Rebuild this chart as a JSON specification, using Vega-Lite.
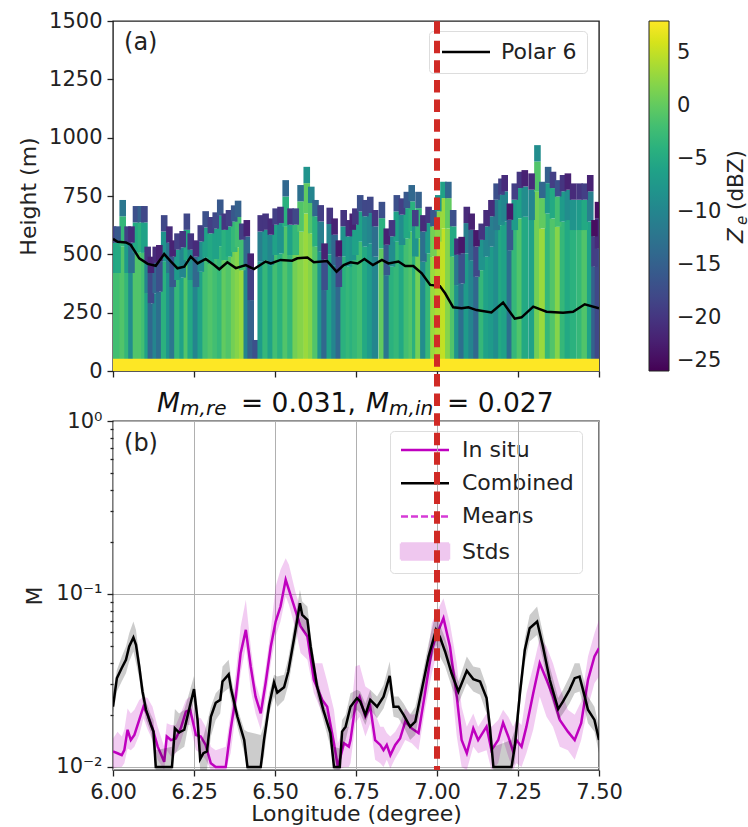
{"$schema":"https://vega.github.io/schema/vega-lite/v6.json","padding":{"left":16,"top":9,"right":0,"bottom":0},"spacing":50,"bounds":"flush","config":{"font":"DejaVu Sans","view":{"stroke":"#222","strokeWidth":1.4},"axis":{"labelFontSize":21,"titleFontSize":22,"titleFontWeight":"normal","tickColor":"#222","tickWidth":1.3,"tickSize":6,"labelColor":"#222","titleColor":"#222","domain":false,"labelOverlap":false,"labelFlush":false,"labelBound":false,"labelPadding":5},"legend":{"labelFontSize":22,"labelColor":"#222"}},
"datasets":{"radar":[
{"x":6.0,"b":420,"c":550,"t":620,"z1":-2,"z2":-6,"z3":-19},{"x":6.014,"b":420,"c":550,"t":620,"z1":-2,"z2":-5,"z3":-16},{"x":6.03,"b":533,"c":663,"t":733,"z1":-1,"z2":-3,"z3":-12},{"x":6.045,"b":420,"c":550,"t":620,"z1":-3,"z2":-7,"z3":-19},{"x":6.057,"b":420,"c":550,"t":620,"z1":-9,"z2":-13,"z3":-21},{"x":6.071,"b":507,"c":637,"t":707,"z1":-1,"z2":-5,"z3":-17},{"x":6.086,"b":507,"c":637,"t":707,"z1":-1,"z2":-4,"z3":-15},{"x":6.097,"b":507,"c":637,"t":707,"z1":-2,"z2":-6,"z3":-18},{"x":6.107,"b":333,"c":463,"t":533,"z1":-6,"z2":-10,"z3":-20},{"x":6.117,"b":290,"c":420,"t":490,"z1":-14,"z2":-18,"z3":-22},{"x":6.132,"b":333,"c":463,"t":533,"z1":-10,"z2":-14,"z3":-21},{"x":6.143,"b":340,"c":470,"t":540,"z1":-13,"z2":-17,"z3":-22},{"x":6.158,"b":468,"c":598,"t":668,"z1":-4,"z2":-8,"z3":-18},{"x":6.174,"b":420,"c":550,"t":620,"z1":-8,"z2":-12,"z3":-21},{"x":6.184,"b":360,"c":490,"t":560,"z1":-12,"z2":-16,"z3":-22},{"x":6.199,"b":390,"c":520,"t":590,"z1":-3,"z2":-7,"z3":-19},{"x":6.215,"b":400,"c":530,"t":600,"z1":-6,"z2":-10,"z3":-20},{"x":6.228,"b":475,"c":605,"t":675,"z1":-1,"z2":-5,"z3":-18},{"x":6.24,"b":390,"c":520,"t":590,"z1":-5,"z2":-9,"z3":-20},{"x":6.256,"b":360,"c":490,"t":560,"z1":-10,"z2":-14,"z3":-21},{"x":6.271,"b":425,"c":555,"t":625,"z1":-6,"z2":-9,"z3":-19},{"x":6.286,"b":485,"c":615,"t":685,"z1":-2,"z2":-6,"z3":-17},{"x":6.302,"b":460,"c":590,"t":660,"z1":-1,"z2":-5,"z3":-19},{"x":6.317,"b":480,"c":610,"t":680,"z1":-2,"z2":-6,"z3":-18},{"x":6.331,"b":535,"c":665,"t":735,"z1":-3,"z2":-6,"z3":-16},{"x":6.345,"b":475,"c":605,"t":675,"z1":0,"z2":-4,"z3":-20},{"x":6.358,"b":490,"c":620,"t":690,"z1":-1,"z2":-5,"z3":-19},{"x":6.374,"b":510,"c":640,"t":710,"z1":1,"z2":-3,"z3":-16},{"x":6.386,"b":530,"c":660,"t":730,"z1":2,"z2":-2,"z3":-15},{"x":6.399,"b":432,"c":562,"t":632,"z1":3,"z2":-2,"z3":-19},{"x":6.413,"b":447,"c":577,"t":647,"z1":-10,"z2":-14,"z3":-22},{"x":6.425,"b":304,"c":434,"t":504,"z1":-15,"z2":-19,"z3":-22},{"x":6.44,"b":133,"c":133,"t":133,"z1":-17,"z2":-17,"z3":-17},{"x":6.456,"b":468,"c":598,"t":668,"z1":-7,"z2":-11,"z3":-20},{"x":6.471,"b":475,"c":605,"t":675,"z1":-3,"z2":-8,"z3":-20},{"x":6.487,"b":454,"c":584,"t":654,"z1":-6,"z2":-10,"z3":-21},{"x":6.502,"b":497,"c":627,"t":697,"z1":-2,"z2":-6,"z3":-19},{"x":6.517,"b":504,"c":634,"t":704,"z1":-4,"z2":-8,"z3":-20},{"x":6.533,"b":618,"c":748,"t":818,"z1":-1,"z2":-4,"z3":-14},{"x":6.548,"b":497,"c":627,"t":697,"z1":-3,"z2":-6,"z3":-20},{"x":6.564,"b":497,"c":627,"t":697,"z1":1,"z2":-3,"z3":-18},{"x":6.579,"b":597,"c":727,"t":797,"z1":2,"z2":-1,"z3":-13},{"x":6.598,"b":675,"c":805,"t":875,"z1":3,"z2":0,"z3":-8},{"x":6.612,"b":590,"c":720,"t":790,"z1":2,"z2":-1,"z3":-10},{"x":6.625,"b":533,"c":663,"t":733,"z1":-1,"z2":-4,"z3":-14},{"x":6.641,"b":511,"c":641,"t":711,"z1":-8,"z2":-11,"z3":-19},{"x":6.653,"b":347,"c":477,"t":547,"z1":-14,"z2":-17,"z3":-22},{"x":6.669,"b":500,"c":630,"t":700,"z1":-6,"z2":-10,"z3":-20},{"x":6.684,"b":454,"c":584,"t":654,"z1":-10,"z2":-14,"z3":-22},{"x":6.697,"b":360,"c":490,"t":560,"z1":-14,"z2":-18,"z3":-23},{"x":6.712,"b":490,"c":620,"t":690,"z1":-4,"z2":-8,"z3":-20},{"x":6.728,"b":447,"c":577,"t":647,"z1":-3,"z2":-7,"z3":-21},
{"x":6.74,"b":475,"c":605,"t":675,"z1":-4,"z2":-8,"z3":-22},{"x":6.748,"b":497,"c":627,"t":697,"z1":-3,"z2":-6,"z3":-20},{"x":6.763,"b":554,"c":684,"t":754,"z1":-2,"z2":-6,"z3":-17},{"x":6.779,"b":533,"c":663,"t":733,"z1":-5,"z2":-9,"z3":-18},{"x":6.794,"b":547,"c":677,"t":747,"z1":-7,"z2":-10,"z3":-18},{"x":6.809,"b":490,"c":620,"t":690,"z1":-10,"z2":-13,"z3":-20},{"x":6.83,"b":525,"c":655,"t":725,"z1":0,"z2":-4,"z3":-17},{"x":6.845,"b":411,"c":541,"t":611,"z1":-12,"z2":-16,"z3":-22},{"x":6.861,"b":447,"c":577,"t":647,"z1":-4,"z2":-9,"z3":-20},{"x":6.876,"b":554,"c":684,"t":754,"z1":-3,"z2":-6,"z3":-17},{"x":6.892,"b":540,"c":670,"t":740,"z1":-5,"z2":-9,"z3":-19},{"x":6.907,"b":568,"c":698,"t":768,"z1":-2,"z2":-5,"z3":-16},{"x":6.922,"b":597,"c":727,"t":797,"z1":-1,"z2":-4,"z3":-14},{"x":6.933,"b":490,"c":620,"t":690,"z1":-4,"z2":-8,"z3":-19},{"x":6.943,"b":568,"c":698,"t":768,"z1":1,"z2":-3,"z3":-15},{"x":6.958,"b":468,"c":598,"t":668,"z1":-9,"z2":-13,"z3":-21},{"x":6.974,"b":504,"c":634,"t":704,"z1":-3,"z2":-7,"z3":-20},{"x":6.989,"b":490,"c":620,"t":690,"z1":3,"z2":1,"z3":-16},{"x":7.004,"b":554,"c":684,"t":754,"z1":4,"z2":2,"z3":-8},{"x":7.02,"b":611,"c":741,"t":811,"z1":5,"z2":3,"z3":-6},{"x":7.035,"b":611,"c":741,"t":811,"z1":2,"z2":0,"z3":-14},{"x":7.05,"b":490,"c":620,"t":690,"z1":-1,"z2":-5,"z3":-17},{"x":7.063,"b":368,"c":498,"t":568,"z1":-8,"z2":-12,"z3":-21},{"x":7.076,"b":375,"c":505,"t":575,"z1":-13,"z2":-17,"z3":-23},{"x":7.092,"b":504,"c":634,"t":704,"z1":-7,"z2":-11,"z3":-21},{"x":7.107,"b":475,"c":605,"t":675,"z1":-10,"z2":-14,"z3":-22},{"x":7.122,"b":404,"c":534,"t":604,"z1":-14,"z2":-18,"z3":-23},{"x":7.138,"b":432,"c":562,"t":632,"z1":-3,"z2":-8,"z3":-20},{"x":7.153,"b":490,"c":620,"t":690,"z1":-6,"z2":-10,"z3":-21},{"x":7.168,"b":533,"c":663,"t":733,"z1":-7,"z2":-11,"z3":-21},{"x":7.184,"b":604,"c":734,"t":804,"z1":-9,"z2":-12,"z3":-17},{"x":7.199,"b":625,"c":755,"t":825,"z1":-5,"z2":-9,"z3":-19},{"x":7.209,"b":640,"c":770,"t":840,"z1":-6,"z2":-10,"z3":-21},{"x":7.225,"b":518,"c":648,"t":718,"z1":-13,"z2":-16,"z3":-23},{"x":7.24,"b":604,"c":734,"t":804,"z1":-3,"z2":-7,"z3":-19},{"x":7.256,"b":654,"c":784,"t":854,"z1":-1,"z2":-6,"z3":-20},{"x":7.271,"b":661,"c":791,"t":861,"z1":-5,"z2":-9,"z3":-22},{"x":7.292,"b":647,"c":777,"t":847,"z1":-6,"z2":-10,"z3":-21},{"x":7.31,"b":768,"c":898,"t":968,"z1":1,"z2":-1,"z3":-9},{"x":7.325,"b":611,"c":741,"t":811,"z1":3,"z2":0,"z3":-14},{"x":7.343,"b":675,"c":805,"t":875,"z1":-3,"z2":-7,"z3":-15},{"x":7.358,"b":654,"c":784,"t":854,"z1":-1,"z2":-5,"z3":-19},{"x":7.374,"b":618,"c":748,"t":818,"z1":2,"z2":-2,"z3":-17},{"x":7.389,"b":640,"c":770,"t":840,"z1":-3,"z2":-7,"z3":-20},{"x":7.404,"b":647,"c":777,"t":847,"z1":-5,"z2":-9,"z3":-22},{"x":7.42,"b":604,"c":734,"t":804,"z1":-4,"z2":-8,"z3":-21},{"x":7.44,"b":604,"c":734,"t":804,"z1":-3,"z2":-7,"z3":-20},{"x":7.456,"b":604,"c":734,"t":804,"z1":-1,"z2":-5,"z3":-19},{"x":7.473,"b":640,"c":770,"t":840,"z1":-6,"z2":-11,"z3":-22},{"x":7.486,"b":447,"c":577,"t":647,"z1":-15,"z2":-19,"z3":-24},{"x":7.497,"b":525,"c":655,"t":725,"z1":-18,"z2":-21,"z3":-24}
],
"polar":[{"x":6.0,"y":566},{"x":6.014,"y":554},{"x":6.04,"y":551},{"x":6.055,"y":540},{"x":6.081,"y":483},{"x":6.107,"y":459},{"x":6.132,"y":451},{"x":6.158,"y":501},{"x":6.179,"y":469},{"x":6.199,"y":440},{"x":6.22,"y":447},{"x":6.24,"y":490},{"x":6.261,"y":461},{"x":6.286,"y":480},{"x":6.312,"y":454},{"x":6.328,"y":436},{"x":6.353,"y":466},{"x":6.379,"y":441},{"x":6.41,"y":454},{"x":6.435,"y":437},{"x":6.471,"y":469},{"x":6.487,"y":461},{"x":6.517,"y":476},{"x":6.553,"y":473},{"x":6.569,"y":483},{"x":6.6,"y":486},{"x":6.62,"y":466},{"x":6.661,"y":471},{"x":6.69,"y":426},{"x":6.712,"y":454},{"x":6.733,"y":466},{"x":6.755,"y":461},{"x":6.776,"y":480},{"x":6.802,"y":454},{"x":6.83,"y":476},{"x":6.85,"y":461},{"x":6.881,"y":469},{"x":6.902,"y":450},{"x":6.927,"y":450},{"x":6.953,"y":419},{"x":6.979,"y":369},{"x":7.009,"y":364},{"x":7.025,"y":333},{"x":7.05,"y":273},{"x":7.076,"y":269},{"x":7.097,"y":273},{"x":7.122,"y":261},{"x":7.168,"y":251},{"x":7.204,"y":293},{"x":7.24,"y":224},{"x":7.261,"y":230},{"x":7.297,"y":276},{"x":7.338,"y":254},{"x":7.389,"y":250},{"x":7.42,"y":254},{"x":7.456,"y":286},{"x":7.5,"y":269}],
"comb":[{"x":6.0,"y":0.0223,"hi":0.0267,"lo":0.02},{"x":6.012,"y":0.0326,"hi":0.0364,"lo":0.0273},{"x":6.027,"y":0.0373,"hi":0.0435,"lo":0.0312},{"x":6.04,"y":0.0416,"hi":0.0497,"lo":0.0348},{"x":6.05,"y":0.0497,"hi":0.0593,"lo":0.0407},{"x":6.063,"y":0.056,"hi":0.0693,"lo":0.0465},{"x":6.071,"y":0.0508,"hi":0.062,"lo":0.0398},{"x":6.081,"y":0.0381,"hi":0.0435,"lo":0.0326},{"x":6.091,"y":0.0273,"hi":0.0312,"lo":0.0239},{"x":6.102,"y":0.0214,"hi":0.0239,"lo":0.0187},{"x":6.117,"y":0.0175,"hi":0.02,"lo":0.0157},{"x":6.125,"y":0.016,"hi":0.0187,"lo":0.0125},{"x":6.132,"y":0.01,"hi":0.0125,"lo":0.0096},{"x":6.182,"y":0.01,"hi":0.0131,"lo":0.0096},{"x":6.191,"y":0.0167,"hi":0.0216,"lo":0.012},{"x":6.204,"y":0.0158,"hi":0.0204,"lo":0.0125},{"x":6.22,"y":0.0164,"hi":0.0214,"lo":0.0131},{"x":6.232,"y":0.0204,"hi":0.0255,"lo":0.0171},{"x":6.25,"y":0.0282,"hi":0.0336,"lo":0.0239},{"x":6.261,"y":0.0187,"hi":0.0223,"lo":0.0157},{"x":6.269,"y":0.0111,"hi":0.014,"lo":0.0096},{"x":6.279,"y":0.012,"hi":0.015,"lo":0.0096},{"x":6.29,"y":0.0123,"hi":0.0179,"lo":0.0096},{"x":6.302,"y":0.0195,"hi":0.0223,"lo":0.015},{"x":6.317,"y":0.0235,"hi":0.0267,"lo":0.0187},{"x":6.331,"y":0.0244,"hi":0.0285,"lo":0.0204},{"x":6.338,"y":0.0312,"hi":0.0381,"lo":0.0267},{"x":6.357,"y":0.0343,"hi":0.0416,"lo":0.0285},{"x":6.365,"y":0.0279,"hi":0.0326,"lo":0.0239},{"x":6.384,"y":0.0195,"hi":0.0218,"lo":0.0171},{"x":6.405,"y":0.0143,"hi":0.0164,"lo":0.012},{"x":6.415,"y":0.01,"hi":0.016,"lo":0.0096},{"x":6.456,"y":0.01,"hi":0.0153,"lo":0.0096},{"x":6.466,"y":0.0143,"hi":0.0175,"lo":0.0115},{"x":6.482,"y":0.0228,"hi":0.0267,"lo":0.0204},{"x":6.497,"y":0.0308,"hi":0.0341,"lo":0.0255},{"x":6.507,"y":0.0269,"hi":0.0333,"lo":0.0223},{"x":6.528,"y":0.0289,"hi":0.0341,"lo":0.0244},{"x":6.541,"y":0.0356,"hi":0.0425,"lo":0.0298},{"x":6.559,"y":0.0555,"hi":0.0663,"lo":0.0465},{"x":6.577,"y":0.0885,"hi":0.1057,"lo":0.0709},{"x":6.584,"y":0.0757,"hi":0.0905,"lo":0.062},{"x":6.6,"y":0.0709,"hi":0.0846,"lo":0.058},{"x":6.61,"y":0.0497,"hi":0.058,"lo":0.0416},{"x":6.63,"y":0.0292,"hi":0.0326,"lo":0.0255},{"x":6.649,"y":0.0214,"hi":0.0239,"lo":0.0187},{"x":6.671,"y":0.0157,"hi":0.0179,"lo":0.0131},{"x":6.682,"y":0.01,"hi":0.0131,"lo":0.0096},{"x":6.7,"y":0.01,"hi":0.0128,"lo":0.0096},{"x":6.707,"y":0.016,"hi":0.0187,"lo":0.0125},{"x":6.718,"y":0.0171,"hi":0.02,"lo":0.0143},{"x":6.733,"y":0.0223,"hi":0.0267,"lo":0.0187},{"x":6.753,"y":0.025,"hi":0.0279,"lo":0.0214},{"x":6.763,"y":0.0239,"hi":0.0273,"lo":0.0204},{"x":6.779,"y":0.02,"hi":0.0233,"lo":0.0175},{"x":6.794,"y":0.0244,"hi":0.0279,"lo":0.0214},{"x":6.815,"y":0.0223,"hi":0.0255,"lo":0.0191},{"x":6.835,"y":0.0255,"hi":0.0298,"lo":0.0218},{"x":6.854,"y":0.0336,"hi":0.0407,"lo":0.0279},{"x":6.866,"y":0.0223,"hi":0.0255,"lo":0.0195},{"x":6.881,"y":0.0223,"hi":0.0255,"lo":0.0191},{"x":6.897,"y":0.02,"hi":0.0233,"lo":0.0171},{"x":6.917,"y":0.0171,"hi":0.02,"lo":0.0143},{"x":6.933,"y":0.0183,"hi":0.0223,"lo":0.0153},{"x":6.953,"y":0.0279,"hi":0.0326,"lo":0.0239},{"x":6.974,"y":0.0435,"hi":0.0519,"lo":0.0364},{"x":6.997,"y":0.062,"hi":0.0792,"lo":0.0508},{"x":7.009,"y":0.0563,"hi":0.0663,"lo":0.0435},{"x":7.025,"y":0.0465,"hi":0.0555,"lo":0.0381},{"x":7.045,"y":0.0348,"hi":0.0407,"lo":0.0292},{"x":7.066,"y":0.0273,"hi":0.0312,"lo":0.0233},{"x":7.092,"y":0.036,"hi":0.0435,"lo":0.0305},{"x":7.112,"y":0.0322,"hi":0.0381,"lo":0.0273},{"x":7.133,"y":0.0312,"hi":0.0373,"lo":0.0261},{"x":7.153,"y":0.025,"hi":0.0292,"lo":0.0204},{"x":7.163,"y":0.0171,"hi":0.02,"lo":0.0143},{"x":7.174,"y":0.01,"hi":0.0131,"lo":0.0096},{"x":7.23,"y":0.01,"hi":0.0143,"lo":0.0096},{"x":7.24,"y":0.0131,"hi":0.0164,"lo":0.0105},{"x":7.256,"y":0.0267,"hi":0.0305,"lo":0.0228},{"x":7.271,"y":0.0475,"hi":0.0555,"lo":0.0398},{"x":7.286,"y":0.0634,"hi":0.0757,"lo":0.0531},{"x":7.309,"y":0.0693,"hi":0.0846,"lo":0.058},{"x":7.327,"y":0.0497,"hi":0.0593,"lo":0.0416},{"x":7.348,"y":0.0319,"hi":0.0381,"lo":0.0267},{"x":7.374,"y":0.0216,"hi":0.025,"lo":0.0187},{"x":7.389,"y":0.0239,"hi":0.0279,"lo":0.0204},{"x":7.409,"y":0.0279,"hi":0.0333,"lo":0.0233},{"x":7.425,"y":0.0326,"hi":0.0398,"lo":0.0267},{"x":7.44,"y":0.0333,"hi":0.0398,"lo":0.0273},{"x":7.456,"y":0.0255,"hi":0.0305,"lo":0.0214},{"x":7.466,"y":0.0214,"hi":0.0255,"lo":0.0179},{"x":7.486,"y":0.0187,"hi":0.0223,"lo":0.016},{"x":7.5,"y":0.0143,"hi":0.0171,"lo":0.012}],
"situ":[{"x":6.0,"y":0.0123,"hi":0.0146,"lo":0.0098},{"x":6.014,"y":0.012,"hi":0.016,"lo":0.01},{"x":6.027,"y":0.0117,"hi":0.015,"lo":0.01},{"x":6.035,"y":0.0125,"hi":0.0164,"lo":0.0105},{"x":6.045,"y":0.0164,"hi":0.0218,"lo":0.0128},{"x":6.055,"y":0.0143,"hi":0.0204,"lo":0.0125},{"x":6.066,"y":0.0153,"hi":0.0214,"lo":0.0131},{"x":6.081,"y":0.0187,"hi":0.0244,"lo":0.0153},{"x":6.094,"y":0.0223,"hi":0.0255,"lo":0.0191},{"x":6.107,"y":0.02,"hi":0.025,"lo":0.0164},{"x":6.122,"y":0.0167,"hi":0.0223,"lo":0.0143},{"x":6.138,"y":0.0131,"hi":0.0171,"lo":0.011},{"x":6.158,"y":0.0107,"hi":0.0131,"lo":0.0096},{"x":6.166,"y":0.015,"hi":0.0179,"lo":0.0125},{"x":6.179,"y":0.0143,"hi":0.0175,"lo":0.0115},{"x":6.194,"y":0.0146,"hi":0.0175,"lo":0.012},{"x":6.209,"y":0.0167,"hi":0.0204,"lo":0.014},{"x":6.225,"y":0.0209,"hi":0.0244,"lo":0.0175},{"x":6.238,"y":0.0214,"hi":0.0255,"lo":0.0175},{"x":6.256,"y":0.0153,"hi":0.0195,"lo":0.0125},{"x":6.271,"y":0.015,"hi":0.0191,"lo":0.012},{"x":6.286,"y":0.0134,"hi":0.0171,"lo":0.011},{"x":6.302,"y":0.0105,"hi":0.0131,"lo":0.0096},{"x":6.317,"y":0.01,"hi":0.0125,"lo":0.0096},{"x":6.348,"y":0.01,"hi":0.0131,"lo":0.0096},{"x":6.363,"y":0.0164,"hi":0.0204,"lo":0.012},{"x":6.379,"y":0.0255,"hi":0.0348,"lo":0.0204},{"x":6.394,"y":0.0455,"hi":0.0648,"lo":0.0348},{"x":6.41,"y":0.062,"hi":0.0925,"lo":0.0497},{"x":6.425,"y":0.0381,"hi":0.0497,"lo":0.0279},{"x":6.44,"y":0.0255,"hi":0.0305,"lo":0.0204},{"x":6.456,"y":0.0204,"hi":0.0244,"lo":0.0164},{"x":6.471,"y":0.0305,"hi":0.0373,"lo":0.0244},{"x":6.487,"y":0.0497,"hi":0.062,"lo":0.0398},{"x":6.502,"y":0.0693,"hi":0.1105,"lo":0.0568},{"x":6.517,"y":0.0846,"hi":0.1379,"lo":0.0693},{"x":6.533,"y":0.1207,"hi":0.161,"lo":0.0967},{"x":6.543,"y":0.1057,"hi":0.1475,"lo":0.0865},{"x":6.564,"y":0.0792,"hi":0.1011,"lo":0.062},{"x":6.579,"y":0.0648,"hi":0.0828,"lo":0.0455},{"x":6.6,"y":0.0568,"hi":0.0709,"lo":0.0416},{"x":6.62,"y":0.0319,"hi":0.0398,"lo":0.0267},{"x":6.646,"y":0.0244,"hi":0.0398,"lo":0.0204},{"x":6.661,"y":0.0223,"hi":0.0312,"lo":0.0195},{"x":6.682,"y":0.0137,"hi":0.0214,"lo":0.01},{"x":6.694,"y":0.01,"hi":0.0137,"lo":0.0096},{"x":6.713,"y":0.0137,"hi":0.0171,"lo":0.01},{"x":6.728,"y":0.0131,"hi":0.0171,"lo":0.01},{"x":6.733,"y":0.0143,"hi":0.0187,"lo":0.0105},{"x":6.748,"y":0.0228,"hi":0.0381,"lo":0.0179},{"x":6.761,"y":0.0255,"hi":0.039,"lo":0.0195},{"x":6.779,"y":0.0195,"hi":0.0292,"lo":0.015},{"x":6.794,"y":0.0223,"hi":0.0279,"lo":0.0179},{"x":6.809,"y":0.0143,"hi":0.0204,"lo":0.011},{"x":6.825,"y":0.0134,"hi":0.0171,"lo":0.0105},{"x":6.835,"y":0.0125,"hi":0.0171,"lo":0.01},{"x":6.845,"y":0.0134,"hi":0.0157,"lo":0.011},{"x":6.856,"y":0.0117,"hi":0.015,"lo":0.0098},{"x":6.871,"y":0.0134,"hi":0.016,"lo":0.0112},{"x":6.886,"y":0.0146,"hi":0.0179,"lo":0.0125},{"x":6.902,"y":0.0183,"hi":0.0218,"lo":0.0143},{"x":6.922,"y":0.0167,"hi":0.02,"lo":0.0137},{"x":6.943,"y":0.0157,"hi":0.0204,"lo":0.0125},{"x":6.963,"y":0.0267,"hi":0.0333,"lo":0.0214},{"x":6.984,"y":0.0475,"hi":0.0678,"lo":0.0348},{"x":6.997,"y":0.0568,"hi":0.0774,"lo":0.0435},{"x":7.02,"y":0.0725,"hi":0.0946,"lo":0.0543},{"x":7.04,"y":0.0497,"hi":0.0678,"lo":0.0381},{"x":7.061,"y":0.0255,"hi":0.0398,"lo":0.015},{"x":7.076,"y":0.0143,"hi":0.0223,"lo":0.01},{"x":7.092,"y":0.012,"hi":0.0171,"lo":0.0096},{"x":7.112,"y":0.0167,"hi":0.0204,"lo":0.0131},{"x":7.127,"y":0.0143,"hi":0.0171,"lo":0.012},{"x":7.153,"y":0.0171,"hi":0.0204,"lo":0.0125},{"x":7.168,"y":0.0125,"hi":0.0171,"lo":0.0096},{"x":7.189,"y":0.0143,"hi":0.0187,"lo":0.0105},{"x":7.204,"y":0.018,"hi":0.0214,"lo":0.0143},{"x":7.22,"y":0.015,"hi":0.0195,"lo":0.0115},{"x":7.235,"y":0.0123,"hi":0.0171,"lo":0.0096},{"x":7.245,"y":0.0143,"hi":0.0187,"lo":0.0105},{"x":7.261,"y":0.0131,"hi":0.0175,"lo":0.01},{"x":7.276,"y":0.0171,"hi":0.0267,"lo":0.012},{"x":7.297,"y":0.0267,"hi":0.0381,"lo":0.0164},{"x":7.317,"y":0.0398,"hi":0.0555,"lo":0.0255},{"x":7.338,"y":0.0319,"hi":0.0497,"lo":0.0195},{"x":7.358,"y":0.0255,"hi":0.0398,"lo":0.0171},{"x":7.379,"y":0.0187,"hi":0.0292,"lo":0.0131},{"x":7.404,"y":0.016,"hi":0.0214,"lo":0.0125},{"x":7.425,"y":0.0143,"hi":0.02,"lo":0.011},{"x":7.445,"y":0.0179,"hi":0.0239,"lo":0.0143},{"x":7.466,"y":0.0319,"hi":0.0435,"lo":0.0223},{"x":7.486,"y":0.0435,"hi":0.0593,"lo":0.0305},{"x":7.5,"y":0.0486,"hi":0.0709,"lo":0.0333}]
},
"vconcat":[
{"width":486,"height":350,
"encoding":{"x":{"field":"x","type":"quantitative","scale":{"domain":[6,7.5],"nice":false,"padding":0},"axis":{"values":[6,6.25,6.5,6.75,7,7.25,7.5],"labels":false,"title":null,"grid":false}},"y":{"field":"y","type":"quantitative","scale":{"domain":[0,1500],"nice":false},"axis":{"values":[0,250,500,750,1000,1250,1500],"format":"d","title":"Height (m)","grid":false,"titlePadding":8}}},
"resolve":{"scale":{"stroke":"independent","fill":"independent","shape":"independent","strokeDash":"independent"}},
"layer":[
{"data":{"name":"radar"},"mark":{"type":"bar","width":6.6,"orient":"vertical","clip":true},"encoding":{"y":{"field":"b","type":"quantitative","scale":{"domain":[0,1500],"nice":false},"axis":{"values":[0,250,500,750,1000,1250,1500],"format":"d","title":"Height (m)","grid":false,"titlePadding":8}},"y2":{"datum":45},"color":{"field":"z1","type":"quantitative","scale":{"scheme":"viridis","domain":[-25,8]},"legend":{"orient":"none","legendX":536,"legendY":0,"gradientLength":350,"gradientThickness":20,"values":[-25,-20,-15,-10,-5,0,5],"title":null,"labelFontSize":21,"labelOffset":8,"labelOverlap":false,"labelBaseline":"middle","gradientStrokeColor":"#222","gradientStrokeWidth":1}}}},
{"data":{"name":"radar"},"mark":{"type":"bar","width":6.6,"orient":"vertical","clip":true},"encoding":{"y":{"field":"c","type":"quantitative","scale":{"domain":[0,1500],"nice":false},"axis":{"values":[0,250,500,750,1000,1250,1500],"format":"d","title":"Height (m)","grid":false,"titlePadding":8}},"y2":{"field":"b"},"color":{"field":"z2","type":"quantitative","scale":{"scheme":"viridis","domain":[-25,8]},"legend":null}}},
{"data":{"name":"radar"},"mark":{"type":"bar","width":6.6,"orient":"vertical","clip":true},"encoding":{"y":{"field":"t","type":"quantitative","scale":{"domain":[0,1500],"nice":false},"axis":{"values":[0,250,500,750,1000,1250,1500],"format":"d","title":"Height (m)","grid":false,"titlePadding":8}},"y2":{"field":"c"},"color":{"field":"z3","type":"quantitative","scale":{"scheme":"viridis","domain":[-25,8]},"legend":null}}},
{"data":{"values":[{"x":6,"x2":7.5,"y":52,"z":8}]},"mark":{"type":"rect"},"encoding":{"x2":{"field":"x2"},"y2":{"datum":0},"color":{"field":"z","type":"quantitative","scale":{"scheme":"viridis","domain":[-25,8]},"legend":null}}},
{"data":{"name":"polar"},"mark":{"type":"line","strokeWidth":2.5,"clip":true},"encoding":{"stroke":{"datum":"Polar 6","scale":{"domain":["Polar 6"],"range":["#000000"]},"legend":{"orient":"none","legendX":316,"legendY":10,"title":null,"symbolType":"M-1,0H5","symbolSize":256,"symbolStrokeWidth":2.5,"labelFontSize":22,"labelOffset":40,"padding":10,"fillColor":"rgba(255,255,255,0.8)","strokeColor":"#ddd","cornerRadius":4}}}},
{"data":{"values":[]},"mark":{"type":"point"},"encoding":{
"fill":{"field":"s","type":"nominal","scale":{"domain":["In situ","Combined","Means","Stds"],"range":["#bf00bf","#000000","#d63ad6","#efc7ef"]},"legend":{"orient":"none","legendX":277,"legendY":410,"title":null,"symbolSize":256,"symbolStrokeWidth":2.5,"symbolOpacity":1,"labelFontSize":22,"labelOffset":42,"rowPadding":11.2,"padding":8,"fillColor":"rgba(255,255,255,0.8)","strokeColor":"#ddd","cornerRadius":4}},
"stroke":{"field":"s","type":"nominal","scale":{"domain":["In situ","Combined","Means","Stds"],"range":["#bf00bf","#000000","#d63ad6","#efc7ef"]},"legend":{"orient":"none","legendX":277,"legendY":410,"title":null,"symbolSize":256,"symbolStrokeWidth":2.5,"symbolOpacity":1,"labelFontSize":22,"labelOffset":42,"rowPadding":11.2,"padding":8,"fillColor":"rgba(255,255,255,0.8)","strokeColor":"#ddd","cornerRadius":4}},
"shape":{"field":"s","type":"nominal","scale":{"domain":["In situ","Combined","Means","Stds"],"range":["M-1,0H5","M-1,0H5","M-1,0H5","M-1,-1H5V1H-1Z"]},"legend":{"orient":"none","legendX":277,"legendY":410,"title":null,"symbolSize":256,"symbolStrokeWidth":2.5,"symbolOpacity":1,"labelFontSize":22,"labelOffset":42,"rowPadding":11.2,"padding":8,"fillColor":"rgba(255,255,255,0.8)","strokeColor":"#ddd","cornerRadius":4}},
"strokeDash":{"field":"s","type":"nominal","scale":{"domain":["In situ","Combined","Means","Stds"],"range":[[1,0],[1,0],[7,3],[1,0]]},"legend":{"orient":"none","legendX":277,"legendY":410,"title":null,"symbolSize":256,"symbolStrokeWidth":2.5,"symbolOpacity":1,"labelFontSize":22,"labelOffset":42,"rowPadding":11.2,"padding":8,"fillColor":"rgba(255,255,255,0.8)","strokeColor":"#ddd","cornerRadius":4}}}},
{"data":{"values":[{"x":6.034,"y":1376,"t":"(a)"}]},"mark":{"type":"text","align":"left","baseline":"alphabetic","fontSize":24,"color":"#222"},"encoding":{"text":{"field":"t"}}},
{"data":{"values":[{"x":6.136,"y":-176,"t":"M"},{"x":6.781,"y":-176,"t":"M"}]},"mark":{"type":"text","align":"left","baseline":"alphabetic","fontSize":26.5,"fontStyle":"italic","color":"#111"},"encoding":{"text":{"field":"t"}}},
{"data":{"values":[{"x":6.207,"y":-189,"t":"m,re"},{"x":6.852,"y":-189,"t":"m,in"}]},"mark":{"type":"text","align":"left","baseline":"alphabetic","fontSize":20,"fontStyle":"italic","color":"#111"},"encoding":{"text":{"field":"t"}}},
{"data":{"values":[{"x":6.395,"y":-176,"t":"= 0.031,"},{"x":7.031,"y":-176,"t":"= 0.027"}]},"mark":{"type":"text","align":"left","baseline":"alphabetic","fontSize":26.5,"color":"#111"},"encoding":{"text":{"field":"t"}}},
{"data":{"values":[{"x":7.945,"y":549,"t":"Z"}]},"mark":{"type":"text","align":"left","baseline":"alphabetic","angle":270,"fontSize":21.5,"fontStyle":"italic","color":"#222"},"encoding":{"text":{"field":"t"}}},
{"data":{"values":[{"x":7.957,"y":626,"t":"e"}]},"mark":{"type":"text","align":"left","baseline":"alphabetic","angle":270,"fontSize":15,"fontStyle":"italic","color":"#222"},"encoding":{"text":{"field":"t"}}},
{"data":{"values":[{"x":7.945,"y":690,"t":"(dBZ)"}]},"mark":{"type":"text","align":"left","baseline":"alphabetic","angle":270,"fontSize":21.5,"color":"#222"},"encoding":{"text":{"field":"t"}}}
]},
{"width":486,"height":349,
"encoding":{"x":{"field":"x","type":"quantitative","scale":{"domain":[6,7.5],"nice":false},"axis":{"values":[6,6.25,6.5,6.75,7,7.25,7.5],"format":".2f","title":"Longitude (degree)","grid":true,"gridColor":"#b0b0b0","gridWidth":1,"titlePadding":1}},"y":{"field":"y","type":"quantitative","scale":{"type":"log","domain":[0.0096,1],"nice":false},"axis":{"values":[0.01,0.02,0.03,0.04,0.05,0.06,0.07,0.08,0.09,0.1,0.2,0.3,0.4,0.5,0.6,0.7,0.8,0.9,1],"title":"M","titlePadding":9,"grid":true,"gridColor":"#b0b0b0","gridWidth":1,"gridOpacity":{"condition":{"test":"datum.value==1||datum.value==0.1||datum.value==0.01","value":1},"value":0},"tickSize":{"condition":{"test":"datum.value==1||datum.value==0.1||datum.value==0.01","value":6},"value":3},"labelExpr":"datum.value==1?'10⁰':datum.value==0.1?'10⁻¹':datum.value==0.01?'10⁻²':''"}}},
"layer":[
{"data":{"values":[{"y":0.0275}]},"mark":{"type":"rule","color":"#222","strokeWidth":2,"strokeDash":[7,3]},"encoding":{"x":{"datum":6},"x2":{"datum":7.5}}},
{"data":{"values":[{"y":0.0254}]},"mark":{"type":"rule","color":"#d020d0","strokeWidth":2,"strokeDash":[7,3]},"encoding":{"x":{"datum":6},"x2":{"datum":7.5}}},
{"data":{"name":"situ"},"mark":{"type":"area","color":"#bf00bf","opacity":0.2,"clip":true},"encoding":{"y":{"field":"hi","type":"quantitative","scale":{"type":"log","domain":[0.0096,1],"nice":false},"axis":{"values":[0.01,0.02,0.03,0.04,0.05,0.06,0.07,0.08,0.09,0.1,0.2,0.3,0.4,0.5,0.6,0.7,0.8,0.9,1],"title":"M","titlePadding":9,"grid":true,"gridColor":"#b0b0b0","gridWidth":1,"gridOpacity":{"condition":{"test":"datum.value==1||datum.value==0.1||datum.value==0.01","value":1},"value":0},"tickSize":{"condition":{"test":"datum.value==1||datum.value==0.1||datum.value==0.01","value":6},"value":3},"labelExpr":"datum.value==1?'10⁰':datum.value==0.1?'10⁻¹':datum.value==0.01?'10⁻²':''"}},"y2":{"field":"lo"}}},
{"data":{"name":"situ"},"mark":{"type":"line","color":"#bf00bf","strokeWidth":2.5,"clip":true}},
{"data":{"name":"comb"},"mark":{"type":"area","color":"#000000","opacity":0.2,"clip":true},"encoding":{"y":{"field":"hi","type":"quantitative","scale":{"type":"log","domain":[0.0096,1],"nice":false},"axis":{"values":[0.01,0.02,0.03,0.04,0.05,0.06,0.07,0.08,0.09,0.1,0.2,0.3,0.4,0.5,0.6,0.7,0.8,0.9,1],"title":"M","titlePadding":9,"grid":true,"gridColor":"#b0b0b0","gridWidth":1,"gridOpacity":{"condition":{"test":"datum.value==1||datum.value==0.1||datum.value==0.01","value":1},"value":0},"tickSize":{"condition":{"test":"datum.value==1||datum.value==0.1||datum.value==0.01","value":6},"value":3},"labelExpr":"datum.value==1?'10⁰':datum.value==0.1?'10⁻¹':datum.value==0.01?'10⁻²':''"}},"y2":{"field":"lo"}}},
{"data":{"name":"comb"},"mark":{"type":"line","color":"#000000","strokeWidth":2.5,"clip":true}},
{"data":{"values":[{"x":6.034,"y":0.671,"t":"(b)"}]},"mark":{"type":"text","align":"left","baseline":"alphabetic","fontSize":24,"color":"#222"},"encoding":{"text":{"field":"t"}}},
{"data":{"values":[{"x":7,"y":205,"y2":0.0096}]},"mark":{"type":"rule","color":"#d02a25","strokeWidth":6,"strokeDash":[12.5,7.1]},"encoding":{"y2":{"field":"y2"}}}
]}
]}
